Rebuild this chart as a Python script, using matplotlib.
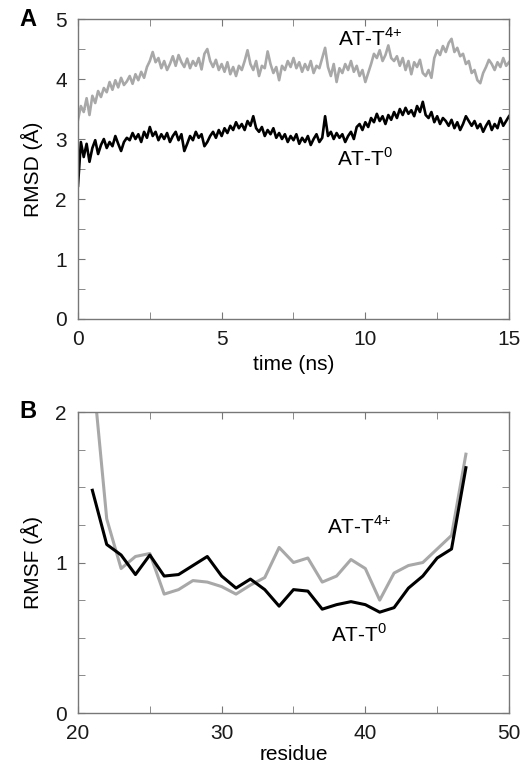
import numpy as np
import matplotlib.pyplot as plt
from matplotlib.ticker import MultipleLocator

plt.rcParams["font.family"] = ["Liberation Sans", "DejaVu Sans"]
plt.rcParams["mathtext.fontset"] = "custom"
plt.rcParams["mathtext.rm"] = "Liberation Sans"

# panel A: RMSD vs time, sampled every 0.1 ns
time_ns = np.round(np.arange(0, 15.01, 0.1), 2)
rmsd_t4 = [
    3.32, 3.55, 3.45, 3.68, 3.40, 3.72, 3.60, 3.80, 3.70, 3.85,
    3.78, 3.95, 3.82, 3.98, 3.86, 4.02, 3.90, 3.96, 4.05, 3.92,
    4.08, 3.98, 4.12, 4.02, 4.20, 4.30, 4.45, 4.28, 4.35, 4.18,
    4.30, 4.15, 4.25, 4.38, 4.22, 4.40, 4.28, 4.20, 4.34, 4.18,
    4.30, 4.22, 4.35, 4.16, 4.42, 4.50, 4.30, 4.20, 4.32, 4.15,
    4.25, 4.12, 4.28, 4.08, 4.20, 4.05, 4.22, 4.15, 4.30, 4.48,
    4.25, 4.15, 4.30, 4.05, 4.22, 4.18, 4.46, 4.25, 4.10, 4.20,
    3.98, 4.22, 4.15, 4.30, 4.20, 4.35, 4.18, 4.28, 4.12, 4.25,
    4.15, 4.30, 4.10, 4.22, 4.18, 4.35, 4.52, 4.20, 4.05, 4.25,
    3.95, 4.18, 4.10, 4.25, 4.15, 4.30, 4.12, 4.22, 4.05, 4.15,
    3.95, 4.10, 4.25, 4.42, 4.35, 4.48, 4.30, 4.40, 4.56, 4.35,
    4.30, 4.38, 4.22, 4.35, 4.15, 4.30, 4.08, 4.28, 4.20, 4.32,
    4.10, 4.05, 4.15, 4.02, 4.35, 4.48, 4.40, 4.55, 4.45, 4.60,
    4.67, 4.45, 4.52, 4.38, 4.42, 4.25, 4.30, 4.10, 4.15, 3.98,
    3.93, 4.10, 4.20, 4.32, 4.25, 4.15, 4.28, 4.20, 4.35, 4.22,
    4.28,
]
rmsd_t0 = [
    2.22, 2.95, 2.70, 2.92, 2.62, 2.85, 2.98, 2.75, 2.90, 3.00,
    2.85, 2.95, 2.88, 3.05, 2.92, 2.80, 2.95, 3.02, 2.98, 3.10,
    3.00, 3.08, 2.95, 3.12, 3.02, 3.20, 3.05, 3.12, 2.98, 3.08,
    3.00, 3.10, 2.95, 3.05, 3.12, 2.98, 3.08, 2.80, 2.92, 3.05,
    2.98, 3.12, 3.02, 3.08, 2.88, 2.95, 3.05, 3.12, 3.02, 3.15,
    3.05, 3.18, 3.10, 3.22, 3.15, 3.28, 3.18, 3.25, 3.15, 3.30,
    3.22, 3.38, 3.18, 3.12, 3.20, 3.05, 3.15, 3.08, 3.18, 3.02,
    3.10, 3.00, 3.08, 2.95, 3.05, 2.98, 3.08, 2.92, 3.02, 2.95,
    3.05, 2.90, 3.00, 3.08, 2.95, 3.02, 3.38, 3.05, 3.12, 3.00,
    3.10, 3.02, 3.08, 2.95, 3.05, 3.12, 3.00, 3.20, 3.25, 3.15,
    3.28, 3.20, 3.35, 3.28, 3.42, 3.30, 3.38, 3.25, 3.40, 3.32,
    3.45, 3.35, 3.50, 3.40, 3.52, 3.42, 3.48, 3.38, 3.55, 3.45,
    3.62, 3.40, 3.35, 3.45, 3.28, 3.38, 3.25, 3.35, 3.30, 3.22,
    3.32, 3.18, 3.28, 3.15, 3.25, 3.38, 3.30, 3.22, 3.30, 3.18,
    3.25, 3.12, 3.22, 3.30, 3.15, 3.25, 3.18, 3.35, 3.22, 3.30,
    3.38,
]

# panel B: RMSF per residue
residue = list(range(21, 48))
rmsf_t0 = [
    1.48, 1.12, 1.05, 0.92, 1.05, 0.91, 0.92, 0.98, 1.04, 0.91,
    0.83, 0.89, 0.82, 0.71, 0.82, 0.81, 0.69, 0.72, 0.74, 0.72,
    0.67, 0.70, 0.83, 0.91, 1.03, 1.09, 1.63,
]
rmsf_t4 = [
    2.30, 1.29, 0.96, 1.04, 1.06, 0.79, 0.82, 0.88, 0.87, 0.84,
    0.79, 0.85, 0.90, 1.10, 1.00, 1.03, 0.87, 0.91, 1.02, 0.96,
    0.75, 0.93, 0.98, 1.00, 1.09, 1.18, 1.72,
]

GRAY = "#a8a8a8"
SPINE = "#777777"
FS = 15
LBL_T4 = r"AT-T$^{4{+}}$"
LBL_T0 = r"AT-T$^{0}$"


def style_axes(ax):
    for s in ax.spines.values():
        s.set_color(SPINE)
        s.set_linewidth(1.0)
    ax.tick_params(which="both", direction="in", top=True, right=True,
                   color=SPINE, labelsize=FS, labelcolor="#1a1a1a")
    ax.tick_params(which="major", length=5, pad=8)
    ax.tick_params(which="minor", length=5)


fig = plt.figure(figsize=(5.22, 7.67), dpi=100)

axA = fig.add_axes([0.1494, 0.5841, 0.8257, 0.3911])
axA.plot(time_ns, rmsd_t4, color=GRAY, lw=1.9)
axA.plot(time_ns, rmsd_t0, color="black", lw=1.9)
axA.set_xlim(0, 15)
axA.set_ylim(0, 5)
axA.xaxis.set_major_locator(MultipleLocator(5))
axA.xaxis.set_minor_locator(MultipleLocator(2.5))
axA.yaxis.set_major_locator(MultipleLocator(1))
axA.yaxis.set_minor_locator(MultipleLocator(0.5))
axA.set_xlabel("time (ns)", fontsize=FS, labelpad=4)
axA.set_ylabel("RMSD (Å)", fontsize=FS, labelpad=9)
style_axes(axA)
axA.text(10.16, 4.68, LBL_T4, fontsize=FS, ha="center", va="center")
axA.text(9.99, 2.68, LBL_T0, fontsize=FS, ha="center", va="center")
fig.text(0.054, 0.975, "A", fontsize=17, fontweight="bold", ha="center", va="center")

axB = fig.add_axes([0.1494, 0.0704, 0.8257, 0.3924])
axB.plot(residue, rmsf_t4, color=GRAY, lw=2.2)
axB.plot(residue, rmsf_t0, color="black", lw=2.2)
axB.set_xlim(20, 50)
axB.set_ylim(0, 2)
axB.xaxis.set_major_locator(MultipleLocator(10))
axB.xaxis.set_minor_locator(MultipleLocator(5))
axB.yaxis.set_major_locator(MultipleLocator(1))
axB.yaxis.set_minor_locator(MultipleLocator(0.25))
axB.set_xlabel("residue", fontsize=FS, labelpad=1)
axB.set_ylabel("RMSF (Å)", fontsize=FS, labelpad=9)
style_axes(axB)
axB.text(39.6, 1.24, LBL_T4, fontsize=FS, ha="center", va="center")
axB.text(39.6, 0.52, LBL_T0, fontsize=FS, ha="center", va="center")
fig.text(0.054, 0.463, "B", fontsize=17, fontweight="bold", ha="center", va="center")

fig.savefig("out.png", dpi=100, facecolor="white")
